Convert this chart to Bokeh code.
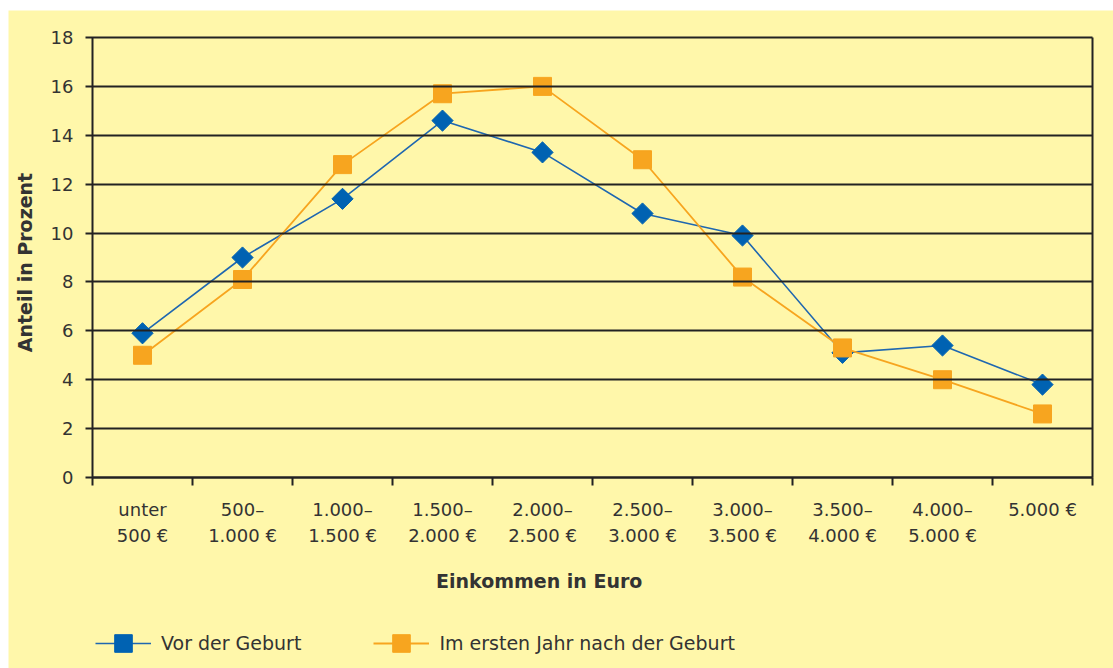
import math
from bokeh.plotting import figure
from bokeh.models import FixedTicker, Legend, LegendItem, Range1d, Label, LinearAxis
from bokeh.embed import file_html
from bokeh.resources import INLINE

categories = ["unter\n500 €", "500–\n1.000 €", "1.000–\n1.500 €", "1.500–\n2.000 €",
              "2.000–\n2.500 €", "2.500–\n3.000 €", "3.000–\n3.500 €", "3.500–\n4.000 €",
              "4.000–\n5.000 €", "5.000 €"]
vor_der_geburt = [5.9, 9.0, 11.4, 14.6, 13.3, 10.8, 9.9, 5.1, 5.4, 3.8]
erstes_jahr = [5.0, 8.1, 12.8, 15.7, 16.0, 13.0, 8.2, 5.3, 4.0, 2.6]
y_ticks = [0, 2, 4, 6, 8, 10, 12, 14, 16, 18]

BG = "#FFF7AA"
BLUE = "#0062B2"
ORANGE = "#F7A51F"
TXT = "#333333"
LINE = "#222222"
FONT = "DejaVu Sans"

n = len(categories)
y_max = max(y_ticks)
xs = [i + 0.5 for i in range(n)]

# layout geometry (pixels): plot box 1000 x 440, margins around it
W, H = 1105, 658
LEFT, TOP = 84, 27
BOX_W, BOX_H = 1000, 440
PX_X = BOX_W / n
PX_Y = BOX_H / y_max
x_start = -LEFT / PX_X
x_end = x_start + W / PX_X
y_end = y_max + TOP / PX_Y
y_start = y_end - H / PX_Y

p = figure(width=W, height=H, output_backend="svg", toolbar_location=None,
           x_range=Range1d(x_start, x_end), y_range=Range1d(y_start, y_end),
           min_border=0)
p.margin = (10, 0, 0, 8)
p.background_fill_color = BG
p.border_fill_color = BG
p.outline_line_color = None
p.xgrid.visible = False
p.ygrid.visible = False

# x axis at y = 0
xa = p.xaxis[0]
xa.fixed_location = 0
xa.bounds = (0, n)
xa.ticker = FixedTicker(ticks=xs, minor_ticks=list(range(n + 1)))
xa.major_label_overrides = {x: c for x, c in zip(xs, categories)}
xa.major_tick_out = 0
xa.major_tick_in = 0
xa.minor_tick_out = 8
xa.minor_tick_in = 0
xa.minor_tick_line_color = LINE
xa.minor_tick_line_width = 2
xa.major_label_standoff = 13
xa.major_label_text_font = FONT
xa.major_label_text_font_size = "18px"
xa.major_label_text_line_height = 1.25
xa.major_label_text_color = TXT
xa.axis_line_color = LINE
xa.axis_line_width = 2

# y axis at x = 0; its ticks run across the box as the horizontal grid lines
ya = p.yaxis[0]
ya.fixed_location = 0
ya.bounds = (0, y_max)
ya.ticker = FixedTicker(ticks=y_ticks)
ya.minor_tick_line_color = None
ya.major_tick_out = 7
ya.major_tick_in = BOX_W
ya.major_tick_line_color = LINE
ya.major_tick_line_width = 2
ya.major_label_standoff = 12
ya.major_label_text_font = FONT
ya.major_label_text_font_size = "18px"
ya.major_label_text_color = TXT
ya.axis_line_color = LINE
ya.axis_line_width = 2

# right border of the plot box
ra = LinearAxis(fixed_location=n, bounds=(0, y_max), ticker=FixedTicker(ticks=[]),
                major_tick_line_color=None, minor_tick_line_color=None,
                axis_line_color=LINE, axis_line_width=2)
p.add_layout(ra, "right")

l1 = p.line(xs, vor_der_geburt, line_color="#1F67B0", line_width=1.6)
m1 = p.scatter(xs, vor_der_geburt, marker="square", angle=math.pi / 4, size=15,
               fill_color=BLUE, line_color=BLUE)
l2 = p.line(xs, erstes_jahr, line_color=ORANGE, line_width=1.8)
m2 = p.scatter(xs, erstes_jahr, marker="square", size=18, fill_color=ORANGE, line_color=ORANGE)

# axis titles
p.add_layout(Label(x=534, y=88, x_units="screen", y_units="screen",
                   text="Einkommen in  Euro", text_align="center", text_baseline="middle",
                   text_font=FONT, text_font_style="bold", text_font_size="19px",
                   text_color=TXT))
p.add_layout(Label(x=16, y=406, x_units="screen", y_units="screen",
                   text="Anteil in Prozent", angle=math.pi / 2,
                   text_align="center", text_baseline="middle",
                   text_font=FONT, text_font_style="bold", text_font_size="19px",
                   text_color=TXT))

legend = Legend(items=[LegendItem(label="Vor der Geburt", renderers=[l1, m1]),
                       LegendItem(label="Im ersten Jahr nach der Geburt", renderers=[l2, m2])],
                orientation="horizontal", location=(87, 3),
                glyph_width=56, glyph_height=44, label_standoff=10, spacing=72,
                padding=0, margin=0, border_line_color=None, background_fill_alpha=0,
                label_text_font=FONT, label_text_font_size="19px", label_text_color=TXT)
p.add_layout(legend, "center")

open("out.html", "w").write(file_html(p, INLINE))
